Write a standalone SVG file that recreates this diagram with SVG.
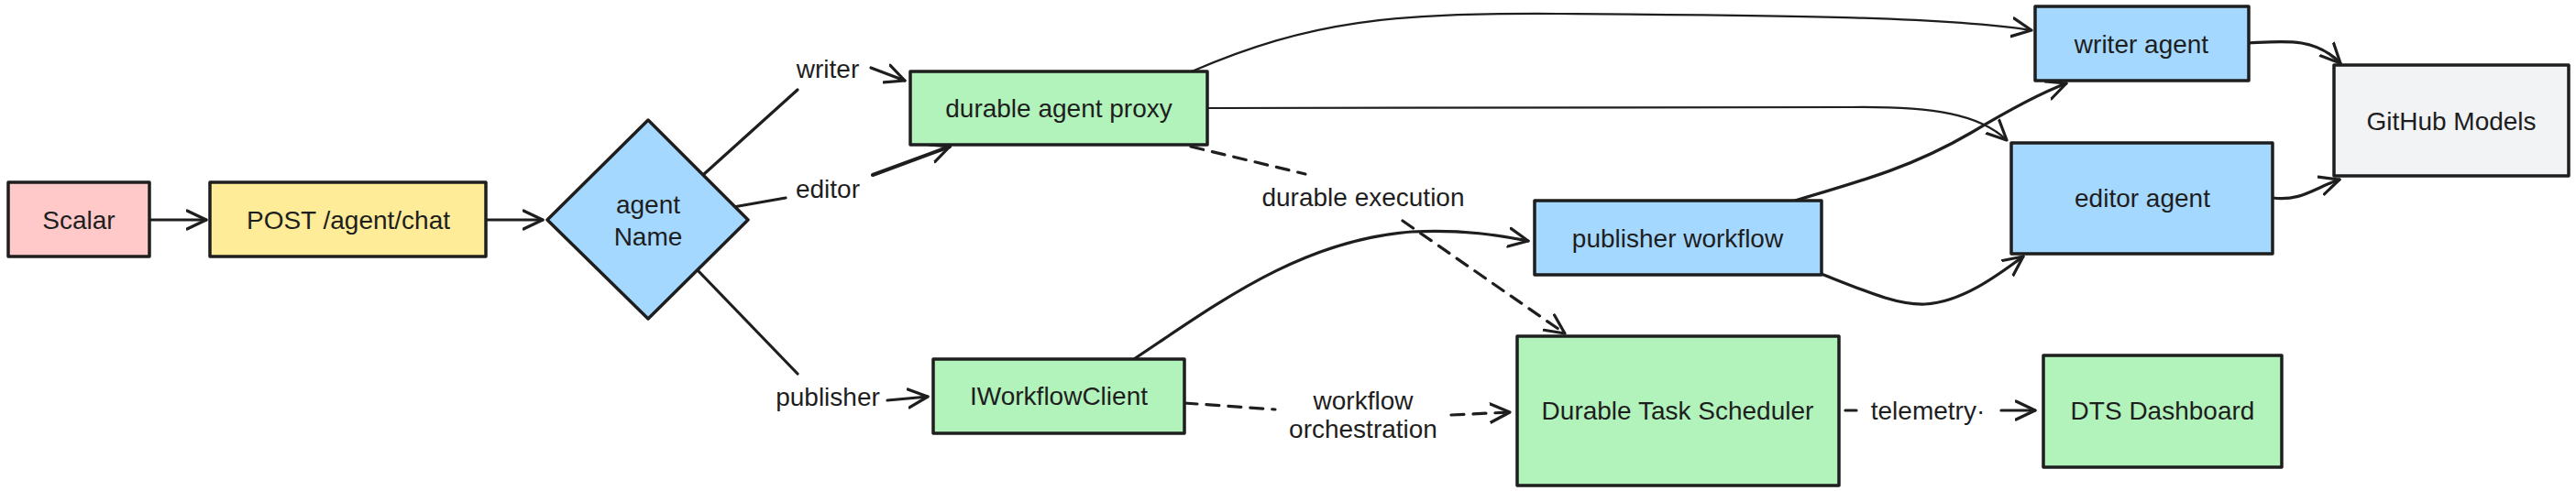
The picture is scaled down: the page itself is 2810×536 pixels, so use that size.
<svg xmlns="http://www.w3.org/2000/svg" width="2810" height="536" viewBox="0 0 2810 536">
<style>
.box{stroke:#1e1e1e;stroke-width:3.5;stroke-linejoin:round}
.t{font-family:"Liberation Sans",Arial,sans-serif;font-size:28px;fill:#1e1e1e;text-anchor:middle;dominant-baseline:central}
.e{fill:none;stroke:#1e1e1e;stroke-width:3.2;stroke-linecap:round;marker-end:url(#ah)}
.n{fill:none;stroke:#1e1e1e;stroke-width:3.2;stroke-linecap:round}
.thin{stroke-width:2.2}
.d{stroke-dasharray:14 10}
.pink{fill:#ffc9c9}.yellow{fill:#ffec99}.blue{fill:#a5d8ff}.green{fill:#b2f2bb}.gray{fill:#f1f3f5}
</style>
<defs>
<marker id="ah" viewBox="0 0 24 24" refX="22" refY="12" markerWidth="24" markerHeight="24" markerUnits="userSpaceOnUse" orient="auto">
<path d="M1,2 L22,12 L1,22" fill="none" stroke="#1e1e1e" stroke-width="3.2" stroke-linecap="round" stroke-linejoin="round"/>
</marker>
</defs>
<rect width="2810" height="536" fill="#ffffff"/>
<g id="connectors">
<path class="e" d="M163,240 L225,240"/>
<path class="e" d="M530,240 L592,240"/>
<path class="n" d="M768,190 L870,98"/>
<path class="e" d="M950,74 L987,88"/>
<path class="n" d="M800,226 L857,216"/>
<path class="e" style="stroke-width:4" d="M952,191 L1036,160"/>
<path class="n" d="M762,296 L870,408"/>
<path class="e" d="M968,437 L1012,433"/>
<path class="e thin" d="M1300,78 C1430,22 1520,14 1700,15 C1950,17 2120,18 2216,33"/>
<path class="e thin" d="M1318,118 L2020,117 C2110,116 2160,125 2189,153"/>
<path class="n d" d="M1299,160 L1424,190"/>
<path class="e d" d="M1530,241 L1707,364"/>
<path class="e" d="M1237,392 C1330,330 1420,262 1540,253 C1600,250 1640,258 1667,263"/>
<path class="n d" d="M1292,440 L1391,447"/>
<path class="e d" d="M1583,453 L1647,450"/>
<path class="e" d="M1958,219 C2040,195 2090,180 2150,145 C2200,115 2230,100 2254,91"/>
<path class="e" d="M1987,299 C2040,320 2070,333 2100,332 C2140,330 2180,300 2207,280"/>
<path class="e" d="M2453,47 C2490,45 2525,40 2553,69"/>
<path class="e" d="M2479,216 C2510,220 2525,205 2552,196"/>
<path class="n" d="M2013,448 L2025,448"/>
<path class="e" d="M2183,448 L2220,448"/>
<text class="t" x="903" y="75">writer</text>
<text class="t" x="903" y="206">editor</text>
<text class="t" x="903" y="433">publisher</text>
<text class="t" x="1487" y="215">durable execution</text>
<text class="t" x="1487" y="437">workflow</text>
<text class="t" x="1487" y="468">orchestration</text>
<text class="t" x="2103" y="448">telemetry·</text>
</g>
<g id="scalar"><rect class="box pink" x="9" y="199" width="154" height="81"/><text class="t" x="86" y="240">Scalar</text></g>
<g id="post"><rect class="box yellow" x="229" y="199" width="301" height="81"/><text class="t" x="380" y="240">POST /agent/chat</text></g>
<g id="agentName"><polygon class="box blue" points="597,240 707,131 816,240 707,348"/><text class="t" x="707" y="223">agent</text><text class="t" x="707" y="258">Name</text></g>
<g id="proxy"><rect class="box green" x="993" y="78" width="324" height="80"/><text class="t" x="1155" y="118">durable agent proxy</text></g>
<g id="workflowClient"><rect class="box green" x="1018" y="392" width="274" height="81"/><text class="t" x="1155" y="432">IWorkflowClient</text></g>
<g id="publisherWorkflow"><rect class="box blue" x="1674" y="219" width="313" height="81"/><text class="t" x="1830" y="260">publisher workflow</text></g>
<g id="writerAgent"><rect class="box blue" x="2220" y="7" width="233" height="81"/><text class="t" x="2336" y="48">writer agent</text></g>
<g id="editorAgent"><rect class="box blue" x="2194" y="156" width="285" height="121"/><text class="t" x="2337" y="216">editor agent</text></g>
<g id="githubModels"><rect class="box gray" x="2546" y="71" width="256" height="121"/><text class="t" x="2674" y="132">GitHub Models</text></g>
<g id="dts"><rect class="box green" x="1655" y="367" width="351" height="163"/><text class="t" x="1830" y="448">Durable Task Scheduler</text></g>
<g id="dtsDashboard"><rect class="box green" x="2229" y="388" width="260" height="122"/><text class="t" x="2359" y="448">DTS Dashboard</text></g>
</svg>
